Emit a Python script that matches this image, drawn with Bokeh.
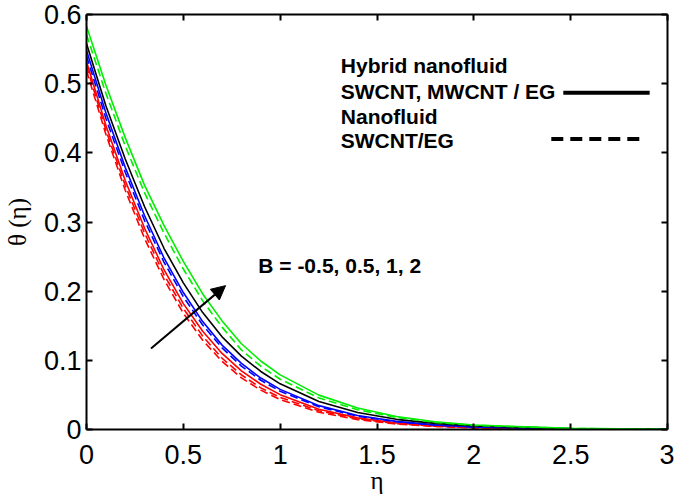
from bokeh.plotting import figure
from bokeh.models import Range1d, LinearAxis, Arrow, NormalHead, FixedTicker, Label, CustomLabelingPolicy
from bokeh.embed import file_html
from bokeh.resources import INLINE

# ---- data ----
eta = [0, 0.1, 0.2, 0.3, 0.4, 0.5, 0.6, 0.7, 0.8, 0.9, 1.0, 1.2, 1.4, 1.6, 1.8, 2.0, 2.5, 3.0]

theta_red = [0.532, 0.440, 0.360, 0.291, 0.231, 0.182, 0.142, 0.110, 0.0848, 0.0654, 0.0504, 0.0294, 0.0168, 0.0094, 0.0052, 0.0028, 0.0005, 0.0001]
theta_red_d1 = [0.526, 0.433, 0.353, 0.284, 0.224, 0.175, 0.135, 0.103, 0.0789, 0.0602, 0.0464, 0.027, 0.0155, 0.0086, 0.0048, 0.0026, 0.0005, 0.0001]
theta_red_d2 = [0.519, 0.427, 0.346, 0.276, 0.217, 0.168, 0.129, 0.0985, 0.0746, 0.0569, 0.0433, 0.025, 0.0143, 0.008, 0.0044, 0.0024, 0.0004, 0.0001]
theta_blue = [0.548, 0.458, 0.379, 0.309, 0.248, 0.198, 0.156, 0.122, 0.0955, 0.0744, 0.058, 0.0345, 0.0203, 0.0118, 0.0067, 0.0038, 0.0009, 0.0002]
theta_blue_d = [0.540, 0.450, 0.372, 0.302, 0.242, 0.192, 0.151, 0.118, 0.0917, 0.0712, 0.0553, 0.0328, 0.0192, 0.0112, 0.0064, 0.0036, 0.0009, 0.0002]
theta_black = [0.558, 0.468, 0.391, 0.322, 0.262, 0.212, 0.169, 0.134, 0.106, 0.0839, 0.066, 0.0404, 0.0245, 0.0147, 0.0088, 0.0051, 0.0013, 0.0003]
theta_green_d = [0.571, 0.486, 0.410, 0.342, 0.284, 0.232, 0.186, 0.148, 0.115, 0.0915, 0.0727, 0.0457, 0.0286, 0.0174, 0.0103, 0.006, 0.0015, 0.0004]
theta_green = [0.583, 0.498, 0.422, 0.353, 0.295, 0.243, 0.196, 0.157, 0.124, 0.099, 0.079, 0.0497, 0.0311, 0.0189, 0.0112, 0.0065, 0.0016, 0.0004]

x_ticks = [0, 0.5, 1, 1.5, 2, 2.5, 3]
x_tick_labels = ["0", "0.5", "1", "1.5", "2", "2.5", "3"]
y_ticks = [0, 0.1, 0.2, 0.3, 0.4, 0.5, 0.6]
y_tick_labels = ["0", "0.1", "0.2", "0.3", "0.4", "0.5", "0.6"]

series = [
    (theta_red_d2, "#ff0000", "8 4"),
    (theta_red_d1, "#ff0000", "8 4"),
    (theta_red, "#ff0000", "solid"),
    (theta_blue_d, "#0000ff", "8 4"),
    (theta_blue, "#0000ff", "solid"),
    (theta_black, "#000000", "solid"),
    (theta_green_d, "#00ee00", "8 4"),
    (theta_green, "#00ee00", "solid"),
]

SANS = "Liberation Sans"
SERIF = "Liberation Serif"

p = figure(width=674, height=500, output_backend="svg", toolbar_location=None,
           x_range=Range1d(0, 3), y_range=Range1d(0, 0.6),
           min_border_left=82, min_border_right=7, min_border_top=14, min_border_bottom=71)
p.grid.visible = False
p.outline_line_color = None
p.background_fill_color = "white"
p.border_fill_color = "white"

for vals, col, dash in series:
    p.line(eta, vals, line_color=col, line_width=1.6, line_dash=dash)

hide_all = CustomLabelingPolicy(code="for (const i of indices) { indices.unset(i) } return indices")

def style_axis(ax, ticks, labels, show_labels=True):
    ax.ticker = FixedTicker(ticks=ticks)
    ax.minor_tick_line_color = None
    ax.major_tick_in = 6
    ax.major_tick_out = 0
    ax.major_tick_line_width = 2
    ax.axis_line_width = 2
    ax.axis_line_color = "black"
    ax.major_tick_line_color = "black"
    if show_labels:
        ax.major_label_overrides = {t: l for t, l in zip(ticks, labels)}
        ax.major_label_text_font = SANS
        ax.major_label_text_font_size = "27px"
        ax.major_label_text_color = "black"
    else:
        ax.major_label_policy = hide_all
        ax.major_label_text_font_size = "0px"
        ax.major_label_standoff = 0

style_axis(p.xaxis[0], x_ticks, x_tick_labels)
style_axis(p.yaxis[0], y_ticks, y_tick_labels)
p.xaxis[0].major_label_standoff = 15
p.yaxis[0].major_label_standoff = 5
p.xaxis[0].axis_label = "η"
p.yaxis[0].axis_label = "θ (η)"
for ax in (p.xaxis[0], p.yaxis[0]):
    ax.axis_label_text_font = SERIF
    ax.axis_label_text_font_size = "25px"
    ax.axis_label_text_font_style = "normal"
    ax.axis_label_text_color = "black"
p.xaxis[0].axis_label_standoff = 0
p.yaxis[0].axis_label_standoff = 10

top = LinearAxis()
style_axis(top, x_ticks, x_tick_labels, show_labels=False)
p.add_layout(top, "above")
right = LinearAxis()
style_axis(right, y_ticks, y_tick_labels, show_labels=False)
p.add_layout(right, "right")

# legend (text + sample lines)
leg_x = 1.313
for txt, yy in [("Hybrid nanofluid", 0.526), ("SWCNT, MWCNT / EG", 0.489),
                ("Nanofluid", 0.453), ("SWCNT/EG", 0.418)]:
    p.add_layout(Label(x=leg_x, y=yy, text=txt, text_font=SANS, text_font_style="bold",
                       text_font_size="21px", text_baseline="middle", text_color="black"))
p.add_layout(Arrow(x_start=2.462, y_start=0.487, x_end=2.908, y_end=0.487, end=None,
                   line_width=4, line_color="black"))
p.add_layout(Arrow(x_start=2.40, y_start=0.420, x_end=2.877, y_end=0.420, end=None,
                   line_width=4, line_color="black", line_dash="12 7"))

# annotation
p.add_layout(Label(x=0.887, y=0.237, text="B = -0.5, 0.5, 1, 2", text_font=SANS,
                   text_font_style="bold", text_font_size="21px", text_baseline="middle",
                   text_color="black"))
p.add_layout(Arrow(x_start=0.333, y_start=0.117, x_end=0.718, y_end=0.208,
                   line_width=2, line_color="black",
                   end=NormalHead(size=14, fill_color="black", line_color="black")))

open("out.html", "w").write(file_html(p, INLINE))
